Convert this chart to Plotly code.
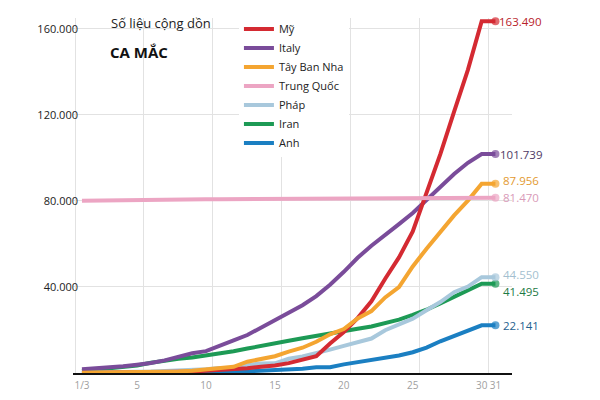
import plotly.graph_objects as go

# ---------------- data ----------------
days = list(range(1, 32))
x_tick_vals = [1, 5, 10, 15, 20, 25, 30, 31]
x_tick_text = ["1/3", "5", "10", "15", "20", "25", "30", "31"]
y_tick_vals = [40000, 80000, 120000, 160000]
y_tick_text = ["40.000", "80.000", "120.000", "160.000"]

my = [30, 53, 80, 120, 200, 250, 400, 540, 700, 1000, 1300, 1700, 2200, 2900, 3500,
      4600, 6400, 7800, 13700, 19100, 25500, 33300, 43800, 53700, 65800, 83800,
      101700, 121500, 140900, 163490, 163490]
italy = [1694, 2036, 2502, 3089, 3858, 4636, 5883, 7375, 9172, 10149, 12462, 15113,
         17660, 21157, 24747, 27980, 31506, 35713, 41035, 47021, 53578, 59138, 63927,
         69176, 74386, 80589, 86498, 92472, 97689, 101739, 101739]
spain = [84, 120, 165, 222, 259, 400, 500, 673, 1073, 1695, 2277, 2900, 5232, 6391,
         7798, 9942, 11748, 14500, 17963, 20410, 25374, 28768, 35136, 39885, 49515,
         57786, 65719, 73235, 80110, 87956, 87956]
china = [80026, 80151, 80270, 80409, 80552, 80651, 80695, 80735, 80754, 80778, 80793,
         80813, 80824, 80844, 80860, 80881, 80894, 80928, 80967, 81008, 81054, 81093,
         81171, 81218, 81285, 81340, 81394, 81420, 81445, 81470, 81470]
france = [130, 191, 204, 285, 377, 653, 949, 1126, 1209, 1784, 2281, 2281, 3661, 4469,
          4499, 6633, 7652, 9043, 10871, 12612, 14282, 16018, 19856, 22304, 25233,
          29155, 32964, 37575, 40174, 44550, 44550]
iran = [978, 1501, 2336, 2922, 3513, 4747, 5823, 6566, 7161, 8042, 9000, 10075, 11364,
        12729, 13938, 14991, 16169, 17361, 18407, 19644, 20610, 21638, 23049, 24811,
        27017, 29406, 32332, 35408, 38309, 41495, 41495]
uk = [36, 40, 51, 86, 116, 164, 207, 274, 322, 384, 459, 459, 802, 1144, 1145, 1551,
      1960, 2642, 2716, 4014, 5067, 5745, 6726, 8164, 9640, 11812, 14745, 17312, 19780,
      22141, 22141]

# name, values, line colour, label colour, legend rank, label x-shift, label y-shift
series = [
    ("Anh", uk, "#1b7fc2", "#1f5f8f", 7, 6, 0),
    ("Iran", iran, "#1d9a55", "#1e7a45", 6, 6, -8),
    ("Pháp", france, "#a8c8dc", "#a3bfd0", 5, 6, 3),
    ("Italy", italy, "#7a4c9a", "#4f3a66", 2, 3, 0),
    ("Mỹ", my, "#d42a32", "#b8232b", 1, 2, 0),
    ("Tây Ban Nha", spain, "#f4a531", "#e39a30", 3, 6, 3),
    ("Trung Quốc", china, "#eca5c3", "#d99ab8", 4, 6, 0),
]

FONT = "Open Sans"

fig = go.Figure()
for name, vals, col, lcol, rank, xsh, ysh in series:
    sizes = [0] * (len(vals) - 1) + [8]
    fig.add_trace(go.Scatter(
        x=days, y=vals, name=name, mode="lines+markers",
        line=dict(color=col, width=4),
        marker=dict(size=sizes, color=col, line=dict(width=0)),
        legendrank=rank, cliponaxis=False,
    ))
    fig.add_annotation(
        x=days[-1], y=vals[-1], xref="x", yref="y",
        text=f"{vals[-1]:,}".replace(",", "."),
        showarrow=False, xanchor="left", yanchor="middle",
        xshift=xsh, yshift=ysh,
        font=dict(family=FONT, size=11.5, color=lcol),
    )

# title block
fig.add_shape(type="rect", xref="paper", yref="paper",
              x0=0.062, x1=0.335, y0=0.855, y1=1.06,
              fillcolor="white", line=dict(width=0), layer="between")
fig.add_annotation(xref="paper", yref="paper", x=0.082, y=0.985,
                   text="Số liệu cộng dồn", showarrow=False,
                   xanchor="left", yanchor="middle",
                   font=dict(family=FONT, size=13, color="#222"))
fig.add_annotation(xref="paper", yref="paper", x=0.08, y=0.905,
                   text="<b>CA MẮC</b>", showarrow=False,
                   xanchor="left", yanchor="middle",
                   font=dict(family=FONT, size=15, color="#111"))

# page body adds an 8px offset; figure sized to fit inside the window
fig.update_layout(
    width=584, height=384, autosize=False,
    margin=dict(l=65, r=80, t=10, b=19, autoexpand=False),
    plot_bgcolor="white", paper_bgcolor="white",
    font=dict(family=FONT),
    showlegend=True,
    legend=dict(x=0.378, y=1.01, xanchor="left", yanchor="top",
                bgcolor="white", borderwidth=0,
                font=dict(family=FONT, size=11, color="#222"),
                itemwidth=30, tracegroupgap=0),
    xaxis=dict(
        range=[0.35, 32.2], automargin=False,
        tickmode="array", tickvals=x_tick_vals, ticktext=x_tick_text,
        tickangle=0,
        tickfont=dict(family=FONT, size=10, color="#a0a0a0"),
        ticklabelstandoff=2,
        showgrid=False, zeroline=False,
        showline=True, linecolor="#111", linewidth=1.5,
        ticks="",
        minor=dict(tickmode="linear", tick0=0.5, dtick=5, showgrid=True,
                   gridcolor="#e2e2e2", gridwidth=1, ticks=""),
    ),
    yaxis=dict(
        range=[0, 165000], automargin=False,
        tickmode="array", tickvals=y_tick_vals, ticktext=y_tick_text,
        tickfont=dict(family=FONT, size=11, color="#222"),
        ticklabelstandoff=-6,
        showgrid=True, gridcolor="#e2e2e2", gridwidth=1,
        zeroline=False, showline=False, ticks="",
    ),
)

fig.write_html("out.html")
